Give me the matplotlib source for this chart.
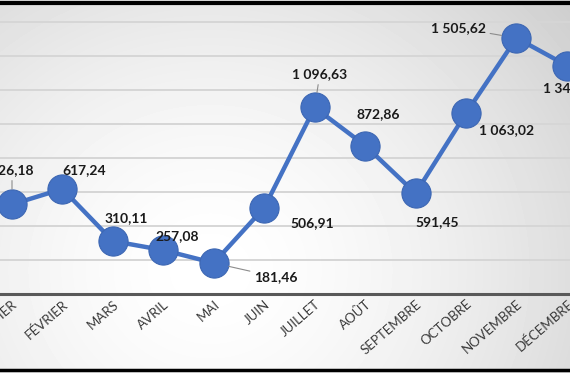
import numpy as np
import matplotlib.pyplot as plt

# Monthly values (French month names, French number format)
mois = ["JANVIER", "FÉVRIER", "MARS", "AVRIL", "MAI", "JUIN", "JUILLET",
        "AOÛT", "SEPTEMBRE", "OCTOBRE", "NOVEMBRE", "DÉCEMBRE"]
valeurs = [526.18, 617.24, 310.11, 257.08, 181.46, 506.91, 1096.63,
           872.86, 591.45, 1063.02, 1505.62, 1343.40]

# label offsets in pixels (dx, dy) relative to each point, y up
offsets = [(0, 34), (22, 19), (13, 23), (14, 14), (62, -14), (48, -15),
           (5, 33), (13, 31), (22, -29), (41, -17), (-58, 10), (4, -23)]
with_leader = [True, False, False, False, True, False,
               True, False, False, False, True, False]

blue = "#4472C4"
FONT = "Lato"


def fr(v):
    s = f"{v:,.2f}"
    return s.replace(",", "\u00a0").replace(".", ",")


fig = plt.figure(figsize=(5.70, 3.73), dpi=100)
fig.patch.set_facecolor("white")

# gradient background
bg = fig.add_axes([0, 0, 1, 1], zorder=0)
W, H = 570, 373
xx, yy = np.meshgrid(np.arange(W), np.arange(H))
d = np.hypot(xx - 210, (yy - 270) * 1.1) / 430.0
shade = 1 - 0.17 * np.clip(d, 0, 1.2) ** 1.6
bg.imshow(shade, cmap="gray", vmin=0, vmax=1, aspect="auto",
          extent=[0, 1, 0, 1], interpolation="bilinear")
bg.set_xlim(0, 1)
bg.set_ylim(0, 1)
bg.axis("off")

# main plot area (the chart is cropped on both sides)
ax = fig.add_axes([-0.0232, 0.2123, 1.0621, 0.8199], zorder=1)
ax.patch.set_alpha(0)
x = np.arange(len(mois))
ax.set_xlim(-0.5, 11.5)
ax.set_ylim(0, 1800)
ax.set_yticks(np.arange(0, 1801, 200))
ax.yaxis.grid(True, color="#d6d6d6", lw=1.4)
ax.set_axisbelow(True)
for s in ["top", "right", "left"]:
    ax.spines[s].set_visible(False)
ax.spines["bottom"].set_color("#595959")
ax.spines["bottom"].set_linewidth(2.2)
ax.tick_params(axis="y", left=False, labelleft=False)
ax.tick_params(axis="x", length=0, pad=3)
ax.set_xticks(x)
ax.set_xticklabels(mois, rotation=41, ha="right", va="top",
                   rotation_mode="anchor", fontsize=9.5, color="#3a3a3a",
                   family=FONT)

ax.plot(x, valeurs, color=blue, lw=3.2, marker="o", markersize=21,
        markerfacecolor=blue, markeredgecolor="#3d67b3", markeredgewidth=0.8,
        zorder=3, clip_on=False)

for xi, v, (dx, dy), lead in zip(x, valeurs, offsets, with_leader):
    kw = {}
    if lead:
        kw["arrowprops"] = dict(arrowstyle="-", color="#8c8c8c", lw=0.8,
                                shrinkA=1, shrinkB=11)
    ax.annotate(fr(v), (xi, v), xytext=(dx, dy), textcoords="offset pixels",
                ha="center", va="center", fontsize=10, fontweight="bold",
                color="#1a1a1a", family=FONT, zorder=4, annotation_clip=False,
                **kw)

# black chart border at top and bottom
fig.add_artist(plt.Line2D([0, 1], [0.992, 0.992], color="black", lw=3,
                          transform=fig.transFigure))
fig.add_artist(plt.Line2D([0, 1], [0.008, 0.008], color="black", lw=2.5,
                          transform=fig.transFigure))

fig.savefig("out.png", dpi=100)
